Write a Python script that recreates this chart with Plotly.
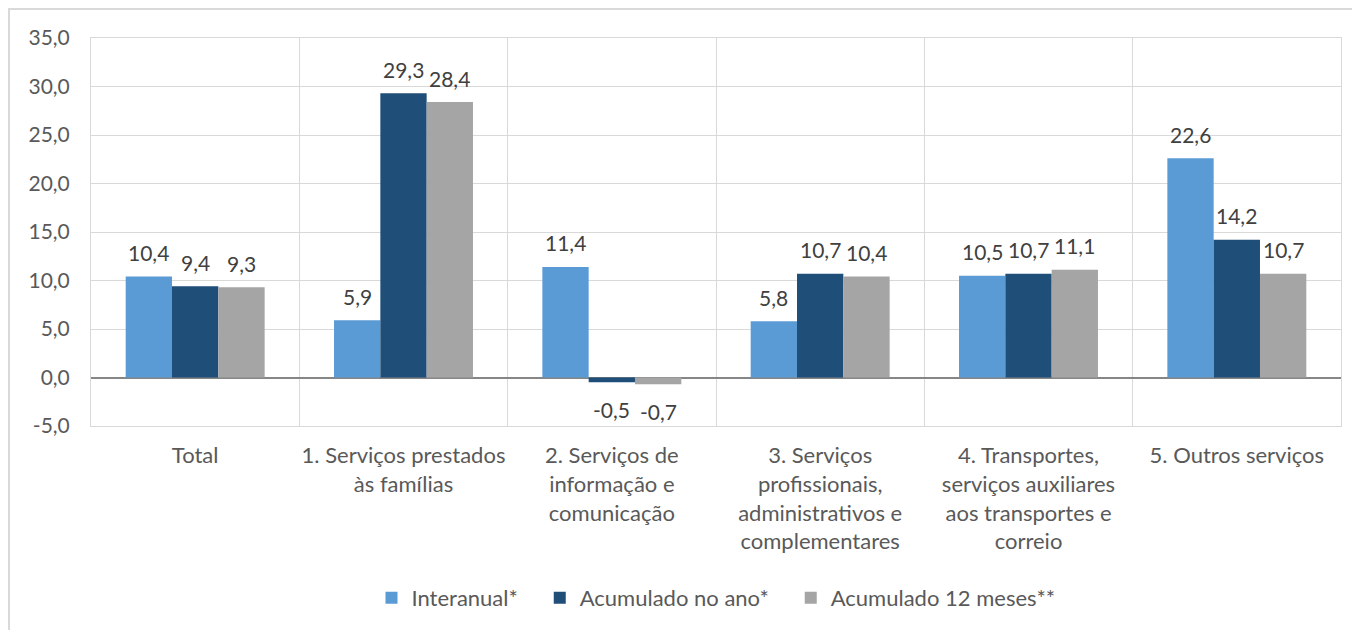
import plotly.graph_objects as go

categories = [
    "Total",
    "1. Serviços prestados<br>às famílias",
    "2. Serviços de<br>informação e<br>comunicação",
    "3. Serviços<br>profissionais,<br>administrativos e<br>complementares",
    "4. Transportes,<br>serviços auxiliares<br>aos transportes e<br>correio",
    "5. Outros serviços",
]
interanual = [10.4, 5.9, 11.4, 5.8, 10.5, 22.6]
acum_ano = [9.4, 29.3, -0.5, 10.7, 10.7, 14.2]
acum_12 = [9.3, 28.4, -0.7, 10.4, 11.1, 10.7]
series_names = ["Interanual*", "Acumulado no ano*", "Acumulado 12 meses**"]
colors = ["#5B9BD5", "#1F4E79", "#A5A5A5"]
y_tickvals = [-5, 0, 5, 10, 15, 20, 25, 30, 35]
y_ticktext = ["-5,0", "0,0", "5,0", "10,0", "15,0", "20,0", "25,0", "30,0", "35,0"]

FONT = "Lato, 'Open Sans', sans-serif"
W, H = 1360, 630
ML, MR, MT, MB = 83, 27, 30, 212
BARGAP = 0.333
plot_w = W - ML - MR
bar_px = plot_w / len(categories) * (1 - BARGAP) / 3
PAD = "\u00a0\u00a0\u00a0"

fig = go.Figure()
annotations = []
all_series = [interanual, acum_ano, acum_12]
for i, (name, vals, col) in enumerate(zip(series_names, all_series, colors)):
    fig.add_trace(go.Bar(
        x=categories, y=vals, name=name + (PAD if i < 2 else ""),
        marker_color=col, marker_line_width=0,
    ))
    for cat, v in zip(categories, vals):
        txt = f"{v:.1f}".replace(".", ",")
        annotations.append(dict(
            x=cat, y=v, xref="x", yref="y", text=txt, showarrow=False,
            xshift=(i - 1) * bar_px, yshift=24 if v >= 0 else -27,
            yanchor="middle", xanchor="center",
            font=dict(size=21, color="#404040", family=FONT),
        ))

fig.update_layout(
    width=W, height=H,
    barmode="group", bargap=BARGAP, bargroupgap=0,
    plot_bgcolor="white", paper_bgcolor="white",
    margin=dict(l=ML, r=MR, t=MT, b=MB, autoexpand=False),
    font=dict(family=FONT, size=21, color="#595959"),
    xaxis=dict(
        tickson="boundaries", showgrid=True, gridcolor="#D9D9D9", gridwidth=1,
        showline=True, mirror=True, linecolor="#D9D9D9", linewidth=1,
        ticks="", tickangle=0, tickfont=dict(size=22, color="#595959"),
        ticklabelstandoff=10,
    ),
    yaxis=dict(
        range=[-5, 35], tickvals=y_tickvals, ticktext=y_ticktext,
        showgrid=True, gridcolor="#D9D9D9", gridwidth=1,
        zeroline=True, zerolinecolor="#868686", zerolinewidth=1.5,
        showline=True, mirror=True, linecolor="#D9D9D9", linewidth=1,
        ticks="", tickfont=dict(size=21, color="#595959"), ticklabelstandoff=16,
    ),
    legend=dict(
        orientation="h", x=0.5, xanchor="center", y=-0.443, yanchor="middle",
        font=dict(size=22, color="#595959"), itemwidth=30, traceorder="normal",
    ),
    annotations=annotations,
    shapes=[dict(
        type="rect", xref="paper", yref="paper",
        x0=-0.0656, x1=1.05, y0=-0.7, y1=1.0747,
        line=dict(color="#D9D9D9", width=2), fillcolor="rgba(0,0,0,0)", layer="below",
    )],
)
fig.write_html("out.html")
